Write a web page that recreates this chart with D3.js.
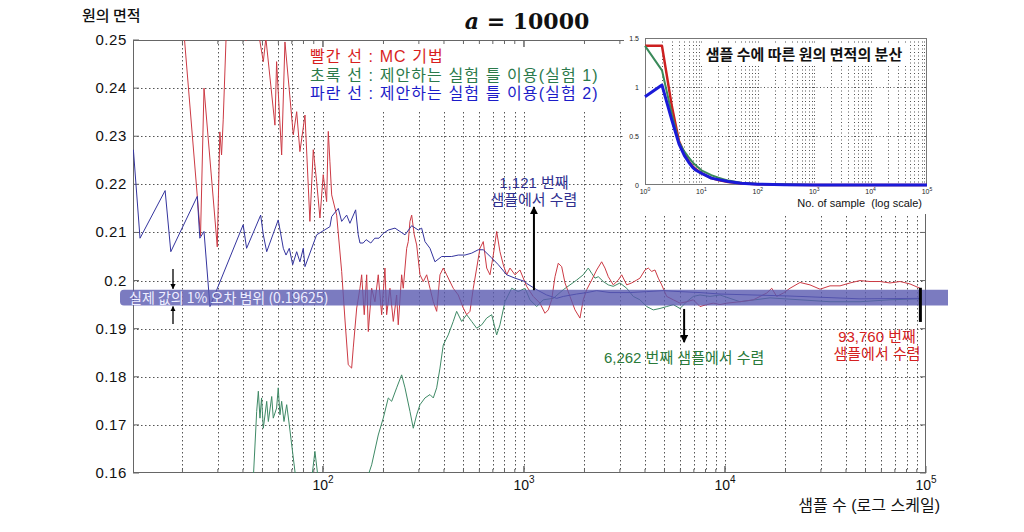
<!DOCTYPE html>
<html><head><meta charset="utf-8">
<script src="https://cdn.jsdelivr.net/npm/d3@7"></script>
<style>body{margin:0;background:#fff;} svg{display:block;}</style>
</head><body>
<svg id="c" width="1024" height="532"></svg>
<script>
// ---------- DATA ----------
const xDomain = [11.35, 100000];
const yDomain = [0.16, 0.25];
const yTicks = [0.16, 0.17, 0.18, 0.19, 0.20, 0.21, 0.22, 0.23, 0.24, 0.25];
const yTickLabels = ["0.16","0.17","0.18","0.19","0.2","0.21","0.22","0.23","0.24","0.25"];
const xMajorTicks = [100, 1000, 10000, 100000];
const xMajorExp = ["2","3","4","5"];

const blueN = [11.4,12.3,16.4,17.5,23.7,24.4,25.6,27.4,40.1,41.7,49.0,50.5,52.5,59.9,63.5,65.5,68,70.7,74,76.8,79.8,81.4,93,108.3,110.5,119.2,123.9,131.2,136.2,145.4,149.8,152.8,158.5,164,173,181,190,199.5,211.3,228.2,241.6,255.9,276.3,298,309.7,321.7,340.7,360.7,389.5,436.9,471.1,508.7,549.4,592.4,627.4,690.9,745.1,820.3,902,1012,1031,1157,1297,1455,1569,1829,2051,2300,2679,3370,4078,4932,5972,7510,9443,20350,23620,46950,93340];
const blueV = [0.2272,0.2088,0.2187,0.2060,0.2175,0.2088,0.2102,0.1946,0.2116,0.2067,0.2136,0.2095,0.2060,0.2126,0.2067,0.2053,0.2067,0.2033,0.2060,0.2039,0.2067,0.2029,0.2095,0.2112,0.2133,0.2150,0.2123,0.2136,0.2119,0.2147,0.2095,0.2078,0.2078,0.2085,0.2078,0.2088,0.2088,0.2098,0.2105,0.2109,0.2102,0.2095,0.2114,0.2105,0.2109,0.2081,0.2067,0.2039,0.2050,0.2050,0.2053,0.2053,0.2057,0.2064,0.2064,0.2047,0.2033,0.2012,0.2005,0.1998,0.1994,0.1981,0.1970,0.1963,0.1967,0.1972,0.1975,0.1979,0.1975,0.1975,0.1977,0.1979,0.1977,0.1975,0.1972,0.1968,0.1967,0.1962,0.1963];

const redN = [20.1,24.6,25.6,29.8,30.7,31.3,31.9,33.2,41.4,45.9,48.0,50.5,52.0,57.7,58.8,62.3,64.7,71.2,74.0,76.8,81.4,86.1,89.5,93.0,96.6,100.3,104.3,106.3,108.3,110.5,117,123.9,128.7,133.6,138.9,141.5,147.2,152.8,155.8,160.5,165,168.1,174.7,181.4,188.4,195.9,203.4,207.4,215.4,223.8,232.6,236.9,246.3,250.9,260.9,265.7,270.9,276.3,284.6,292.5,303.9,315.5,328.1,340.7,353.9,367.9,382.1,396.7,412.5,428.2,444.8,471.1,498.9,518.7,538.7,559.6,581.8,604,627.4,652.3,677.4,703.6,731.4,759.6,788.9,820.3,851.8,902,955.2,1031,1112,1201,1272,1321,1373,1427,1481,1540,1600,1694,1794,1899,1972,2051,2172,2300,2435,2529,2627,2782,2946,3063,3243,3434,3637,3776,3999,4153,4318,4485,4659,4843,5129,5533,5972,6450,6955,7510,8110,8747,9443,10200,11870,13830,16130,17080,18080,19500,21060,23620,26480,29700,33300,37350,41880,46950,52640,59040,66210,74240,83250,93340];
const redV = [0.2542,0.2093,0.2400,0.2070,0.2309,0.2261,0.2334,0.2542,0.2499,0.2531,0.2510,0.2455,0.2504,0.2323,0.2455,0.2261,0.2496,0.2303,0.2351,0.2268,0.2344,0.2123,0.2272,0.2206,0.2130,0.2220,0.2164,0.2310,0.2247,0.2178,0.2136,0.2019,0.1918,0.1825,0.1818,0.1860,0.1943,0.1984,0.2012,0.1929,0.2012,0.1894,0.1984,0.1956,0.2012,0.1929,0.2026,0.1929,0.1984,0.1915,0.1970,0.1908,0.2012,0.1984,0.2067,0.2081,0.2123,0.2136,0.2095,0.2074,0.2012,0.1998,0.2012,0.1984,0.1956,0.1936,0.2012,0.2026,0.2012,0.1998,0.1984,0.1970,0.1943,0.1929,0.1936,0.1984,0.2026,0.2067,0.2081,0.2026,0.2012,0.2053,0.2102,0.2060,0.2033,0.2012,0.2026,0.2012,0.2022,0.1988,0.1967,0.1953,0.1932,0.1939,0.1960,0.2008,0.2036,0.2029,0.1995,0.1967,0.1939,0.1922,0.1960,0.1981,0.2001,0.2022,0.2039,0.2026,0.2008,0.1991,0.2001,0.2012,0.1991,0.1995,0.2001,0.2005,0.2022,0.2026,0.2019,0.2022,0.2005,0.1991,0.1967,0.1960,0.1953,0.1956,0.1960,0.1946,0.1950,0.1953,0.1950,0.1953,0.1956,0.1960,0.1974,0.1984,0.1967,0.1974,0.1984,0.1996,0.1991,0.1982,0.1989,0.1989,0.1995,0.2000,0.1998,0.1998,0.1995,0.1998,0.1993,0.1984];

const greenN = [45.0,46.8,47.7,48.6,49.5,50.5,52.5,53.5,55.6,56.6,58.8,59.9,61.1,62.3,64.0,66.0,68.0,73.4,87.8,91.2,94.8,165,174.7,188.4,199.5,211.3,219.7,232.6,246.3,255.9,270.9,281.4,292.5,303.9,321.7,340.7,353.9,367.9,382.1,396.7,420.1,444.8,462.5,489.8,518.7,549.4,581.8,616.2,652.3,690.9,731.4,759.6,804.4,868.6,936.7,1012,1071,1157,1247,1399,1569,1694,1829,1972,2089,2172,2256,2343,2481,2627,2782,3003,3243,3498,3776,4078,4399,4750,5129,5533,5972,6450,6955,7510,8423,9443,11870,16750,23620,33300,46950,66210,93340];
const greenV = [0.1586,0.1728,0.1770,0.1714,0.1756,0.1693,0.1749,0.1707,0.1759,0.1714,0.1735,0.1777,0.1721,0.1749,0.1707,0.1742,0.1700,0.1586,0.1586,0.1645,0.1586,0.1586,0.1617,0.1679,0.1714,0.1756,0.1749,0.1777,0.1804,0.1777,0.1728,0.1693,0.1721,0.1742,0.1756,0.1763,0.1756,0.1777,0.1818,0.1866,0.1887,0.1915,0.1936,0.1915,0.1929,0.1915,0.1901,0.1908,0.1922,0.1929,0.1887,0.1908,0.1956,0.1984,0.1977,0.1984,0.1960,0.1946,0.1960,0.1963,0.1981,0.1991,0.2001,0.2012,0.2026,0.2015,0.2005,0.2008,0.1998,0.1991,0.1988,0.1995,0.1984,0.1967,0.1960,0.1946,0.1939,0.1942,0.1946,0.1950,0.1942,0.1956,0.1967,0.1970,0.1967,0.1970,0.1956,0.1964,0.1960,0.1956,0.1956,0.1960,0.1962];

// inset: variance vs number of samples
const insetN     = [1, 2, 3, 4, 5, 6, 7, 8, 10, 15, 20, 30, 50, 100, 300, 1000, 100000];
const insetRed   = [1.42,1.42,0.80,0.45,0.32,0.24,0.19,0.16,0.12,0.07,0.05,0.03,0.017,0.008,0.003,0.001,0];
const insetGreen = [1.42,1.17,0.72,0.44,0.34,0.28,0.23,0.20,0.15,0.10,0.075,0.045,0.022,0.010,0.004,0.001,0];
const insetBlue  = [0.90,1.02,0.66,0.42,0.30,0.23,0.18,0.15,0.12,0.07,0.055,0.035,0.018,0.008,0.003,0.001,0];
const insetYTicks = [0, 0.5, 1, 1.5];
const insetYLabels = ["0","0.5","1","1.5"];
const insetXTicks = [1, 10, 100, 1000, 10000, 100000];

const bandRange = [0.1948, 0.1981];
const convN = [1121, 6262, 93760];

// ---------- DRAW ----------
const svg = d3.select("#c");
const L = 133, R = 926, T = 40, B = 473;
const x = d3.scaleLog().domain(xDomain).range([L, R]);
const y = d3.scaleLinear().domain(yDomain).range([B, T]);
const sans = "'Liberation Sans', Arial, sans-serif";
const kr = "'Noto Sans CJK KR', sans-serif";
const krMix = "'Liberation Sans', 'Noto Sans CJK KR', sans-serif";

const defs = svg.append("defs");
defs.append("clipPath").attr("id","clip").append("rect")
  .attr("x", L).attr("y", T).attr("width", R - L).attr("height", B - T);
defs.append("marker").attr("id","ah").attr("viewBox","0 0 10 10")
  .attr("refX", 9).attr("refY", 5).attr("markerWidth", 4).attr("markerHeight", 4)
  .attr("orient","auto").append("path").attr("d","M0,0L10,5L0,10z").attr("fill","#000");

// grid
const minorX = [];
[10,100,1000,10000].forEach(d => { for (let k = 1; k <= 9; k++) { const v = k*d; if (v > xDomain[0] && v < xDomain[1]) minorX.push(v); } });
const grid = svg.append("g").attr("stroke","#555").attr("stroke-width",1).attr("stroke-dasharray","1.5,2.5");
grid.selectAll("line.v").data(minorX).join("line").attr("class","v")
  .attr("x1", d => Math.round(x(d))+0.5).attr("x2", d => Math.round(x(d))+0.5).attr("y1", T).attr("y2", B);
grid.selectAll("line.h").data(yTicks.slice(1,-1)).join("line").attr("class","h")
  .attr("x1", L).attr("x2", R).attr("y1", d => Math.round(y(d))+0.5).attr("y2", d => Math.round(y(d))+0.5);

// legend background hides grid
svg.append("rect").attr("x",300).attr("y",41).attr("width",326).attr("height",70).attr("fill","#fff");

// frame
svg.append("rect").attr("x",L+0.5).attr("y",T+0.5).attr("width",R-L-1).attr("height",B-T-1)
  .attr("fill","none").attr("stroke","#666").attr("stroke-width",1);
// ticks
const tk = svg.append("g").attr("stroke","#666");
yTicks.forEach(v => {
  tk.append("line").attr("x1",L).attr("x2",L+6).attr("y1",y(v)).attr("y2",y(v));
  tk.append("line").attr("x1",R).attr("x2",R-6).attr("y1",y(v)).attr("y2",y(v));
});
minorX.concat(xMajorTicks).forEach(v => {
  const len = xMajorTicks.includes(v) ? 7 : 4;
  tk.append("line").attr("x1",x(v)).attr("x2",x(v)).attr("y1",B).attr("y2",B-len);
  tk.append("line").attr("x1",x(v)).attr("x2",x(v)).attr("y1",T).attr("y2",T+len);
});

// tick labels
svg.append("g").selectAll("text").data(yTicks).join("text")
  .attr("x", L-6).attr("y", d => y(d)+5).attr("text-anchor","end")
  .attr("font-family", sans).attr("font-size",15).attr("letter-spacing","0.6px").attr("fill","#111")
  .text((d,i) => yTickLabels[i]);
xMajorTicks.forEach((v,i) => {
  const t = svg.append("text").attr("x", x(v)).attr("y", 490).attr("text-anchor","middle")
    .attr("font-family", sans).attr("font-size",14).attr("fill","#111");
  t.append("tspan").text("10");
  t.append("tspan").attr("font-size",10).attr("dy",-7).text(xMajorExp[i]);
});

// axis titles
svg.append("text").attr("x",82).attr("y",21).attr("font-family",kr).attr("font-size",15).attr("font-weight",500).attr("fill","#111").text("원의 면적");
svg.append("text").attr("x",940).attr("y",511).attr("text-anchor","end").attr("font-family",krMix).attr("font-size",16).attr("fill","#111").text("샘플 수 (로그 스케일)");

// title
const tt = svg.append("text").attr("x",527).attr("y",29).attr("text-anchor","middle")
  .attr("font-family","'DejaVu Serif', serif").attr("font-weight","bold").attr("font-size",22).attr("fill","#111");
tt.append("tspan").attr("font-style","italic").text("a");
tt.append("tspan").text(" = 10000");

// lines
const line = d3.line().x(d => x(d[0])).y(d => y(d[1]));
const lines = svg.append("g").attr("clip-path","url(#clip)").attr("fill","none");
lines.append("path").attr("d", line(d3.zip(greenN, greenV))).attr("stroke","#3f8a66").attr("stroke-width",1);
lines.append("path").attr("d", line(d3.zip(redN, redV))).attr("stroke","#cc3a44").attr("stroke-width",1);
lines.append("path").attr("d", line(d3.zip(blueN, blueV))).attr("stroke","#34349e").attr("stroke-width",1);

// error band
const yb0 = y(bandRange[1]), yb1 = y(bandRange[0]);
svg.append("path")
  .attr("d", `M${948},${yb0}H${124}a4,4 0 0 0 -4,4V${yb1-4}a4,4 0 0 0 4,4H${948}Z`)
  .attr("fill","#5a5ab0").attr("opacity",0.8);
svg.append("text").attr("x",129).attr("y",(yb0+yb1)/2+5).attr("font-family",kr).attr("font-size",14)
  .attr("fill","#eeeeff").text("실제 값의 1% 오차 범위 (0.19625)");

// small band arrows
const ax = 173;
svg.append("line").attr("x1",ax).attr("x2",ax).attr("y1",269).attr("y2",yb0-1).attr("stroke","#000").attr("stroke-width",1.3).attr("marker-end","url(#ah)");
svg.append("line").attr("x1",ax).attr("x2",ax).attr("y1",324).attr("y2",yb1+1).attr("stroke","#000").attr("stroke-width",1.3).attr("marker-end","url(#ah)");

// convergence annotations
function twoLine(cx, y0, lines, color) {
  const t = svg.append("text").attr("text-anchor","middle").attr("font-family",krMix)
    .attr("font-size",15).attr("fill",color);
  lines.forEach((s,i) => t.append("tspan").attr("x",cx).attr("y",y0 + i*17).text(s));
}
svg.append("line").attr("x1",x(convN[0])).attr("x2",x(convN[0])).attr("y1",y(0.1980)).attr("y2",y(0.2153))
  .attr("stroke","#000").attr("stroke-width",2).attr("marker-end","url(#ah)");
twoLine(x(convN[0]), 188, ["1,121 번째","샘플에서 수렴"], "#30308f");

svg.append("line").attr("x1",x(convN[1])).attr("x2",x(convN[1])).attr("y1",y(0.1941)).attr("y2",y(0.1872))
  .attr("stroke","#000").attr("stroke-width",2).attr("marker-end","url(#ah)");
svg.append("text").attr("x",x(convN[1])).attr("y",363).attr("text-anchor","middle").attr("font-family",krMix).attr("font-size",15).attr("fill","#2a7a3a").text("6,262 번째 샘플에서 수렴");

svg.append("line").attr("x1",x(convN[2])).attr("x2",x(convN[2])).attr("y1",y(0.1985)).attr("y2",y(0.1914))
  .attr("stroke","#000").attr("stroke-width",3);
twoLine(877, 342, ["93,760 번째","샘플에서 수렴"], "#d42020");

// legend text (one text element, three lines)
const lg = [["빨간 선 : MC 기법","#d81e1e"],["초록 선 : 제안하는 실험 틀 이용(실험 1)","#2b7a4b"],["파란 선 : 제안하는 실험 틀 이용(실험 2)","#1c1cc8"]];
const lgt = svg.append("text").attr("font-family",krMix).attr("font-size",16).attr("letter-spacing","1.1px");
lg.forEach((d,i) => lgt.append("tspan").attr("x",310).attr("y",62+i*18.5).attr("fill",d[1]).text(d[0]));

// ---------- INSET ----------
const IL = 645, IR = 927, IT = 38, IB = 185;
svg.append("rect").attr("x",624).attr("y",28).attr("width",312).attr("height",186).attr("fill","#fff");
const ix = d3.scaleLog().domain([1,100000]).range([IL, IR]);
const iy = d3.scaleLinear().domain([0,1.5]).range([IB, IT]);
const iminor = [];
[1,10,100,1000,10000].forEach(d => { for (let k = 2; k <= 9; k++) iminor.push(k*d); });
const ig = svg.append("g").attr("stroke","#555").attr("stroke-width",1).attr("stroke-dasharray","1,2.5");
ig.selectAll("line.v").data(iminor.concat([10,100,1000,10000])).join("line").attr("class","v")
  .attr("x1", d => Math.round(ix(d))+0.5).attr("x2", d => Math.round(ix(d))+0.5).attr("y1", IT).attr("y2", IB);
ig.selectAll("line.h").data([0.5,1]).join("line").attr("class","h")
  .attr("x1", IL).attr("x2", IR).attr("y1", d => Math.round(iy(d))+0.5).attr("y2", d => Math.round(iy(d))+0.5);
svg.append("rect").attr("x",IL+0.5).attr("y",IT+0.5).attr("width",IR-IL-1).attr("height",IB-IT-1)
  .attr("fill","none").attr("stroke","#777");
svg.append("rect").attr("x",700).attr("y",43).attr("width",208).attr("height",22).attr("fill","#fff");
svg.append("text").attr("x",804).attr("y",60).attr("text-anchor","middle").attr("font-family",kr).attr("font-size",15).attr("font-weight",700).attr("fill","#111").text("샘플 수에 따른 원의 면적의 분산");
const iline = d3.line().x(d => ix(d[0])).y(d => iy(d[1]));
const ic = svg.append("g").attr("fill","none").attr("stroke-linejoin","round");
ic.append("path").attr("d", iline(d3.zip(insetN, insetRed))).attr("stroke","#cc2020").attr("stroke-width",2.5);
ic.append("path").attr("d", iline(d3.zip(insetN, insetGreen))).attr("stroke","#3a8a5a").attr("stroke-width",2);
ic.append("path").attr("d", iline(d3.zip(insetN, insetBlue))).attr("stroke","#1a1ad8").attr("stroke-width",3);
insetYTicks.forEach((v,i) => svg.append("text").attr("x",639).attr("y",iy(v)+3).attr("text-anchor","end")
  .attr("font-family",sans).attr("font-size",7).attr("fill","#222").text(insetYLabels[i]));
insetXTicks.forEach((v,i) => {
  const t = svg.append("text").attr("x",ix(v)).attr("y",194).attr("text-anchor","middle")
    .attr("font-family",sans).attr("font-size",7).attr("fill","#222");
  t.append("tspan").text("10");
  t.append("tspan").attr("font-size",5).attr("dy",-3).text(String(i));
});
svg.append("text").attr("x",922).attr("y",207).attr("text-anchor","end").attr("font-family",sans).attr("font-size",11).attr("fill","#111").attr("xml:space","preserve").text("No. of sample  (log scale)");
</script>
</body></html>
